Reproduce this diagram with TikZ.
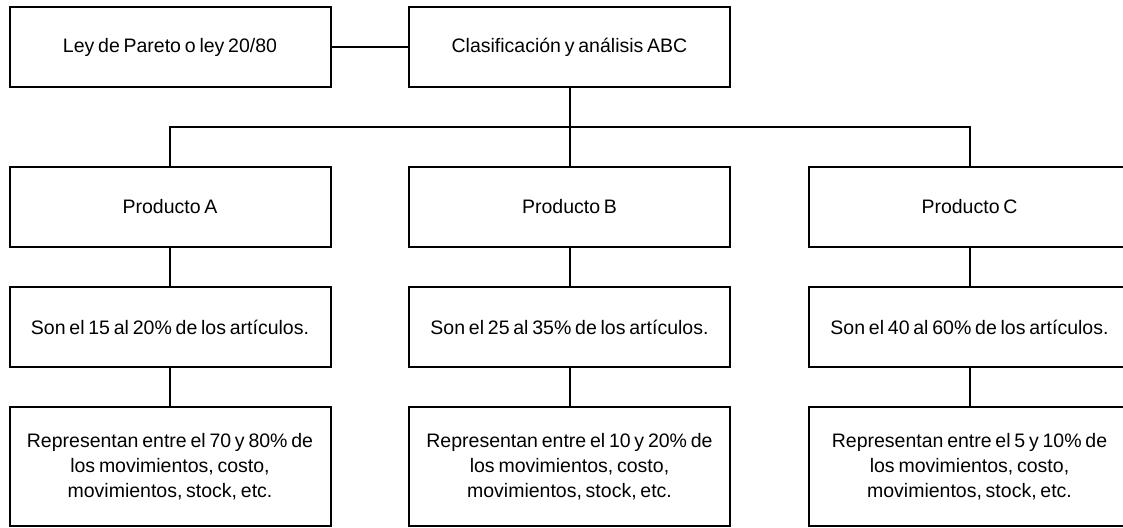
\documentclass[tikz,border=0pt]{standalone}
\usepackage{fontspec}
\setmainfont[WordSpace=0.7]{Liberation Sans}
\begin{document}
\begin{tikzpicture}[x=1pt,y=-1pt,
  box/.style={draw=black, line width=2pt, rectangle, minimum width=321pt, minimum height=80pt, inner sep=0pt, align=center, font=\fontsize{19.5}{25}\selectfont},
  tall/.style={box, minimum height=119pt},
  conn/.style={draw=black, line width=2pt}]
\useasboundingbox (0,0) rectangle (1123,527);
\clip (0,0) rectangle (1123,527);
\node[box] (ley) at (170,47) {Ley de Pareto o ley 20/80};
\node[box] (abc) at (569.5,47) {Clasificación y análisis ABC};
\node[box] (pa) at (170,207) {Producto A};
\node[box] (pb) at (569.5,207) {Producto B};
\node[box] (pc) at (969.5,207) {Producto C};
\node[box] (sa) at (170,327) {Son el 15 al 20\% de los artículos.};
\node[box] (sb) at (569.5,327) {Son el 25 al 35\% de los artículos.};
\node[box] (sc) at (969.5,327) {Son el 40 al 60\% de los artículos.};
\node[tall] (ra) at (170,466.5) {Representan entre el 70 y 80\% de\\los movimientos, costo,\\movimientos, stock, etc.};
\node[tall] (rb) at (569.5,466.5) {Representan entre el 10 y 20\% de\\los movimientos, costo,\\movimientos, stock, etc.};
\node[tall] (rc) at (969.5,466.5) {Representan entre el 5 y 10\% de\\los movimientos, costo,\\movimientos, stock, etc.};
\coordinate (j) at (569.5,127);
\draw[conn] (ley.east) -- (abc.west);
\draw[conn] (abc.south) -- (pb.north);
\draw[conn] (pa.north) |- (j) -| (pc.north);
\draw[conn] (pa.south) -- (sa.north);
\draw[conn] (pb.south) -- (sb.north);
\draw[conn] (pc.south) -- (sc.north);
\draw[conn] (sa.south) -- (ra.north);
\draw[conn] (sb.south) -- (rb.north);
\draw[conn] (sc.south) -- (rc.north);
\end{tikzpicture}
\end{document}
